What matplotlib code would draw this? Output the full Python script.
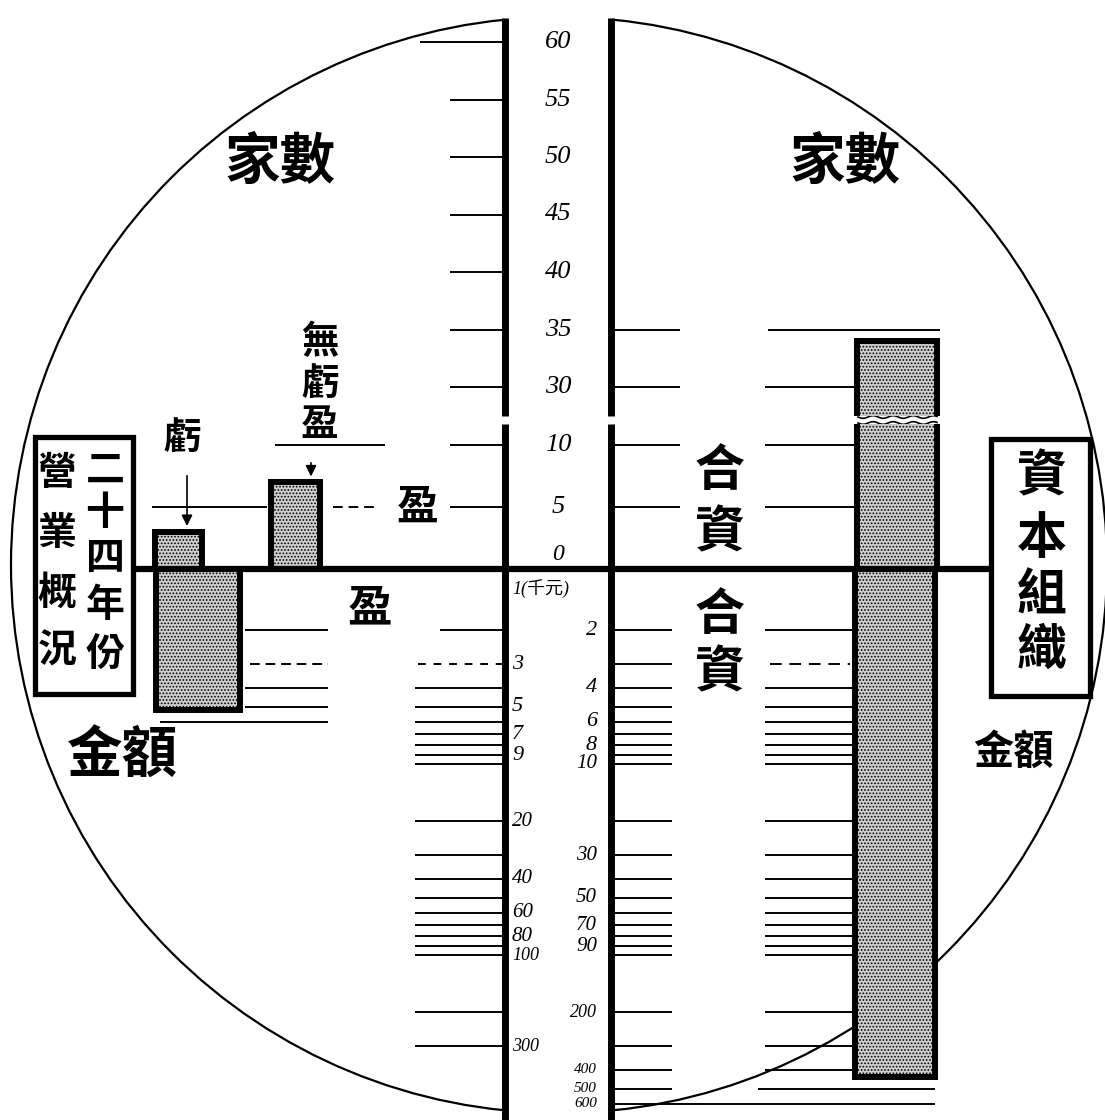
import numpy as np
import matplotlib
matplotlib.use("Agg")
import matplotlib.pyplot as plt
from matplotlib.patches import Circle, Rectangle

plt.rcParams['font.family'] = ['Noto Sans CJK TC', 'DejaVu Sans']
plt.rcParams['hatch.linewidth'] = 0.8

# 家數 (number of firms) and 金額 (thousand yuan)
count_ticks_upper = [30, 35, 40, 45, 50, 55, 60]
count_ticks_lower = [5, 10]
amount_ticks_left = [3, 5, 7, 9, 20, 40, 60, 80, 100, 300]
amount_ticks_right = [2, 4, 6, 8, 10, 30, 50, 70, 90, 200, 400, 500, 600]

loss_count = 3        # 虧
even_count = 7        # 無虧盈
loss_amount = 5.2     # 虧 (千元)
sole_count = 34       # 獨資
sole_amount = 435     # 獨資 (千元)

# layout in pixels
W, H = 1105, 1120
BASE = 569
UP_TOP, UP_BOT, LO_TOP = 18, 416, 424
Y30, PX_UP = 387, 11.5
PX_LO = 12.4
Y_ONE, PX_DEC = 573, 191
COL_L, COL_R = 505, 611
EDGE = 4.3
NUM = dict(family=['Liberation Serif', 'Noto Sans CJK TC'], style='italic')


def make_ax(fig, top, bottom, z):
    ax = fig.add_axes([0, 1 - bottom / H, 1, (bottom - top) / H], zorder=z)
    ax.set_xlim(0, W)
    ax.axis('off')
    ax.patch.set_alpha(0)
    return ax


def vtext(ax, x, ys, chars, size):
    for y, c in zip(ys, chars):
        ax.text(x, y, c, ha='center', va='center', fontsize=size,
                fontweight='bold', zorder=6)


def main():
    fig = plt.figure(figsize=(W / 100, H / 100), dpi=100)
    fig.patch.set_facecolor('white')

    bg = fig.add_axes([0, 0, 1, 1], zorder=0)
    bg.set_xlim(0, W)
    bg.set_ylim(H, 0)
    bg.axis('off')

    ax_up = make_ax(fig, UP_TOP, UP_BOT, 1)
    ax_up.set_ylim(30 - (UP_BOT - Y30) / PX_UP, 30 + (Y30 - UP_TOP) / PX_UP)
    ax_lo = make_ax(fig, LO_TOP, BASE, 2)
    ax_lo.set_ylim(0, (BASE - LO_TOP) / PX_LO)
    ax_amt = make_ax(fig, BASE, H, 3)
    ax_amt.set_yscale('log')
    amt_top = 10 ** ((BASE - Y_ONE) / PX_DEC)
    ax_amt.set_ylim(10 ** ((H - Y_ONE) / PX_DEC), amt_top)

    # circle, white central column, column rules
    bg.add_patch(Circle((559, 565), 548, fill=False, lw=1.6, color='black', zorder=1))
    bg.add_patch(Rectangle((COL_L, 0), COL_R - COL_L, H, color='white', zorder=2))
    for x in (COL_L, COL_R):
        bg.plot([x, x], [UP_TOP, UP_BOT], color='black', lw=5, zorder=3,
                solid_capstyle='butt')
        bg.plot([x, x], [LO_TOP, H], color='black', lw=5, zorder=3,
                solid_capstyle='butt')

    # side boxes
    bg.add_patch(Rectangle((35, 437), 98, 257, fill=True, fc='white', ec='black',
                           lw=3.8, zorder=4))
    bg.add_patch(Rectangle((991, 439), 99, 257, fill=True, fc='white', ec='black',
                           lw=3.8, zorder=4))

    # count grid lines
    tl = dict(color='black', lw=1.4)
    ax_up.hlines(count_ticks_upper, 450, COL_L, **tl)
    ax_up.hlines(60, 420, COL_L, **tl)
    ax_up.hlines([30, 35], COL_R, 680, **tl)
    ax_up.hlines(30, 765, 856, **tl)
    ax_up.hlines(35, 768, 940, **tl)
    ax_lo.hlines(count_ticks_lower, 450, COL_L, **tl)
    ax_lo.hlines(count_ticks_lower, COL_R, 680, **tl)
    ax_lo.hlines(count_ticks_lower, 765, 856, **tl)
    ax_lo.hlines(10, 275, 385, **tl)
    ax_lo.hlines(5, 152, 267, **tl)
    ax_lo.hlines(5, 333, 378, linestyles=(0, (5, 3)), **tl)

    # amount grid lines
    amounts = sorted(amount_ticks_left + amount_ticks_right)
    solid = [v for v in amounts if v != 3]
    ax_amt.hlines([v for v in solid if 2 < v <= 300], 415, COL_L, **tl)
    ax_amt.hlines(2, 440, COL_L, **tl)
    ax_amt.hlines(3, 418, COL_L, linestyles=(0, (4, 4)), **tl)
    ax_amt.hlines([2, 4, 5], 245, 328, **tl)
    ax_amt.hlines(3, 250, 328, linestyles=(0, (5, 3)), **tl)
    ax_amt.hlines(6, 160, 328, **tl)
    ax_amt.hlines(amounts, COL_R, 672, **tl)
    ax_amt.hlines([v for v in solid if v <= 400], 765, 856, **tl)
    ax_amt.hlines(3, 770, 850, linestyles=(0, (6, 4)), **tl)
    ax_amt.hlines(500, 758, 935, **tl)
    ax_amt.hlines(600, 672, 935, **tl)

    # baseline
    ax_lo.hlines(0, 133, 991, color='black', lw=4.5, clip_on=False, zorder=5)

    # bars
    bar = dict(facecolor='#cfcfcf', edgecolor='black', linewidth=EDGE,
               hatch='.....', zorder=4)
    ax_lo.bar([178.5, 295.5], [loss_count, even_count], width=[47, 49], **bar)
    ax_lo.bar(897, sole_count, width=80, **bar)
    low = ax_up.get_ylim()[0] - 1
    ax_up.bar(897, sole_count - low, bottom=low, width=80, **bar)
    ax_amt.bar(197.5, loss_amount - amt_top, bottom=amt_top, width=84, **bar)
    ax_amt.bar(895, sole_amount - amt_top, bottom=amt_top, width=80, **bar)

    # wavy break on the 獨資 bar
    xs = np.linspace(858, 937, 80)
    for y0 in (UP_BOT + 1, LO_TOP - 1):
        bg.plot(xs, y0 + 1.3 * np.sin((xs - 858) / 3.2), color='black', lw=1.2, zorder=5)

    # count labels
    for v in count_ticks_upper:
        ax_up.text(558, v, str(v), ha='center', va='center', fontsize=19, **NUM)
    for v in count_ticks_lower:
        ax_lo.text(558, v, str(v), ha='center', va='center', fontsize=19, **NUM)
    ax_lo.annotate('0', (558, 0), xytext=(0, 3), textcoords='offset points',
                   ha='center', va='bottom', fontsize=17, **NUM)

    # amount labels
    def size_for(v):
        return 16 if v < 10 else (15 if v < 100 else (13 if v < 400 else 11))
    for v in amount_ticks_left:
        ax_amt.text(512, v, str(v), ha='left', va='center', fontsize=size_for(v), **NUM)
    for v in amount_ticks_right:
        ax_amt.text(597, v, str(v), ha='right', va='center', fontsize=size_for(v), **NUM)
    ax_amt.annotate('1(千元)', (512, 1), xytext=(0, -4), textcoords='offset points',
                    ha='left', va='top', fontsize=13, **NUM)

    # headings and category labels
    for x in (280, 845):
        bg.text(x, 163, '家數', ha='center', va='center', fontsize=40, fontweight='bold')
    bg.text(122, 757, '金額', ha='center', va='center', fontsize=40, fontweight='bold')
    bg.text(1013, 752, '金額', ha='center', va='center', fontsize=29, fontweight='bold')

    vtext(bg, 105, [470, 513, 558, 605, 654], '二十四年份', 28)
    vtext(bg, 57, [473, 534, 593, 651], '營業概況', 28)
    vtext(bg, 1042, [477, 539, 596, 650], '資本組織', 36)
    vtext(bg, 720, [471, 533], '合資', 36)
    vtext(bg, 720, [615, 673], '合資', 36)
    vtext(bg, 898, [472, 530], '獨資', 34)
    vtext(bg, 898, [615, 675], '獨資', 34)
    vtext(bg, 182, [437], '虧', 27)
    vtext(bg, 320, [342, 383, 425], '無虧盈', 27)
    vtext(bg, 418, [508], '盈', 30)
    vtext(bg, 370, [608], '盈', 32)
    vtext(bg, 192, [608], '虧', 32)

    # arrows from the small labels down to their bars
    arrow = dict(arrowstyle='-|>', color='black', lw=1.2, mutation_scale=16)
    bg.annotate('', xy=(187, BASE - loss_count * PX_LO - 3), xytext=(187, 473),
                arrowprops=arrow, zorder=6)
    bg.annotate('', xy=(311, BASE - even_count * PX_LO - 3), xytext=(311, 460),
                arrowprops=arrow, zorder=6)

    fig.savefig('out.png', dpi=100, facecolor='white')


if __name__ == "__main__":
    main()
